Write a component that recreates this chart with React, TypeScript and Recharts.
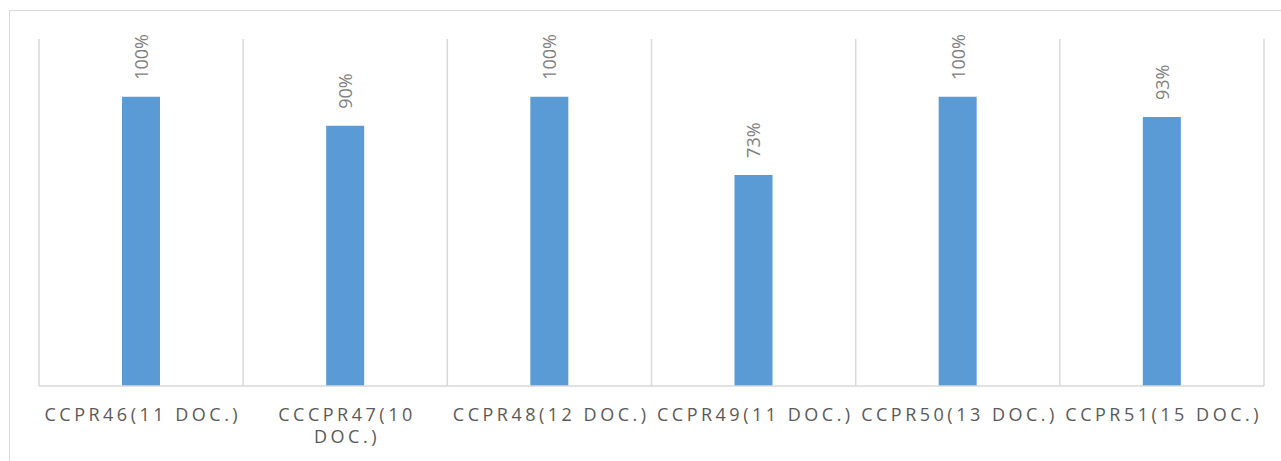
import React from "react";
import { BarChart, Bar, XAxis, YAxis, CartesianGrid, LabelList } from "recharts";

const categories = [
  "CCPR46(11 DOC.)",
  "CCCPR47(10 DOC.)",
  "CCPR48(12 DOC.)",
  "CCPR49(11 DOC.)",
  "CCPR50(13 DOC.)",
  "CCPR51(15 DOC.)",
];
const values = [1.0, 0.9, 1.0, 0.73, 1.0, 0.93];
const valueLabels = ["100%", "90%", "100%", "73%", "100%", "93%"];

const data = categories.map((c, i) => ({ name: c, value: values[i], label: valueLabels[i] }));

const W = 1281;
const H = 461;
const MARGIN = { top: 39, right: 17, left: 39, bottom: 15 };
const TICK_FONT = "18px 'Open Sans'";
const TICK_LS = 3.5;

let ctx: CanvasRenderingContext2D | null = null;
function measure(s: string): number {
  if (!ctx) {
    const c = document.createElement("canvas");
    ctx = c.getContext("2d");
  }
  if (!ctx) return s.length * 13;
  ctx.font = TICK_FONT;
  return ctx.measureText(s).width + s.length * TICK_LS;
}

function wrap(text: string, maxW: number): string[] {
  const words = text.split(" ");
  const lines: string[] = [];
  let cur = "";
  for (const w of words) {
    const t = cur ? cur + " " + w : w;
    if (cur && measure(t) > maxW) {
      lines.push(cur);
      cur = w;
    } else cur = t;
  }
  if (cur) lines.push(cur);
  return lines;
}

const Tick = (props: any) => {
  const { x, y, payload } = props;
  const band = (W - MARGIN.left - MARGIN.right) / categories.length;
  const lines = wrap(String(payload.value), band - 2);
  return (
    <text
      x={x}
      y={y}
      textAnchor="middle"
      fill="#595959"
      style={{ fontFamily: "'Open Sans'", fontSize: 18, letterSpacing: TICK_LS }}
    >
      {lines.map((l, i) => (
        <tspan key={i} x={x + TICK_LS / 2} dy={i === 0 ? 27 : 22}>
          {l}
        </tspan>
      ))}
    </text>
  );
};

const ValueLabel = (props: any) => {
  const { x, y, width, value } = props;
  const cx = x + width / 2;
  const cy = y - 17;
  return (
    <text
      x={cx}
      y={cy}
      transform={`rotate(-90 ${cx} ${cy})`}
      textAnchor="start"
      dominantBaseline="central"
      fill="#808080"
      style={{ fontFamily: "'Open Sans'", fontSize: 18 }}
    >
      {value}
    </text>
  );
};

export default function App() {
  return (
    <div style={{ position: "absolute", left: 0, top: 0, width: W, height: H, overflow: "hidden", background: "#fff" }}>
      <div
        style={{
          position: "absolute",
          left: 9,
          top: 10,
          width: 1300,
          height: 480,
          border: "1px solid #d9d9d9",
          boxSizing: "border-box",
        }}
      />
      <div style={{ position: "absolute", left: 0, top: 0 }}>
        <BarChart width={W} height={H} data={data} margin={MARGIN}>
          <CartesianGrid
            horizontal={false}
            stroke="#d9d9d9"
            strokeWidth={1.5}
            verticalCoordinatesGenerator={({ offset }: any) => {
              const step = offset.width / categories.length;
              return Array.from({ length: categories.length + 1 }, (_, i) => offset.left + i * step);
            }}
          />
          <XAxis
            dataKey="name"
            interval={0}
            tickLine={false}
            axisLine={{ stroke: "#d9d9d9", strokeWidth: 1.5 }}
            height={60}
            tick={<Tick />}
          />
          <YAxis hide domain={[0, 1.2]} />
          <Bar dataKey="value" fill="#5b9bd5" barSize={38} isAnimationActive={false}>
            <LabelList dataKey="label" content={<ValueLabel />} />
          </Bar>
        </BarChart>
      </div>
    </div>
  );
}
